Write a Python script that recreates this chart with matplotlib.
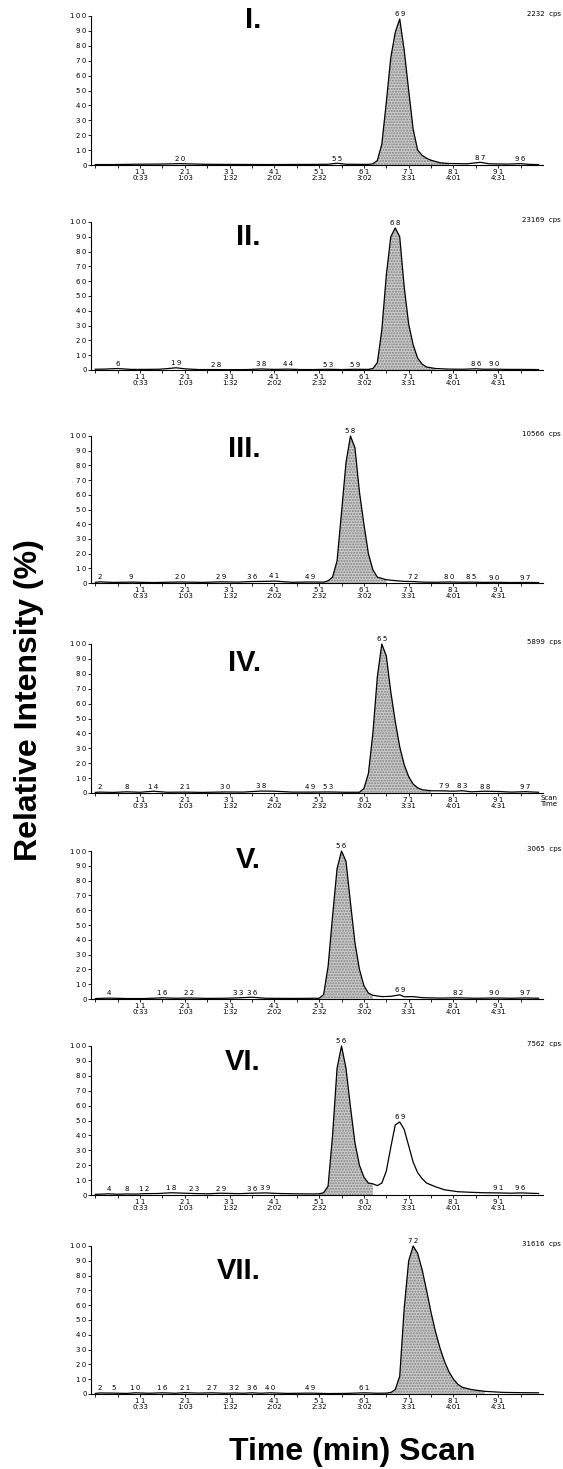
import numpy as np
import matplotlib
matplotlib.use("Agg")
import matplotlib.pyplot as plt
from matplotlib.ticker import FixedLocator, FixedFormatter

# ---- chromatogram traces (scan number, relative intensity %) ----
scan_I = [1, 5, 10, 15, 20, 25, 30, 40, 50, 53, 55, 57, 62, 63, 64, 65, 66, 67, 68, 69,
          70, 71, 72, 73, 74, 75, 76, 78, 80, 84, 87, 89, 93, 96, 98, 100]
int_I = [0.3, 0.3, 0.5, 0.6, 0.9, 0.5, 0.4, 0.3, 0.4, 0.5, 1.2, 0.5, 0.4, 0.8, 3, 14, 42, 72, 89, 98,
         77, 50, 24, 10, 6.5, 4.5, 3.2, 1.5, 1, 0.8, 1.8, 0.8, 0.6, 0.9, 0.4, 0.3]

scan_II = [1, 3, 6, 9, 12, 15, 17, 19, 21, 24, 28, 31, 35, 38, 41, 44, 47, 50, 53, 56,
           59, 62, 63, 64, 65, 66, 67, 68, 69, 70, 71, 72, 73, 74, 75, 77, 80, 83, 86, 88,
           90, 93, 96, 100]
int_II = [0.5, 0.6, 1.0, 0.4, 0.4, 0.5, 0.9, 1.5, 0.8, 0.3, 0.3, 0.2, 0.3, 0.7, 0.4, 0.6, 0.3, 0.3, 0.5, 0.3,
          0.5, 0.4, 1, 5, 27, 64, 90, 96, 90, 56, 31, 17, 8, 4, 2, 1, 0.6, 0.5, 0.8, 0.5,
          0.6, 0.4, 0.4, 0.3]

scan_III = [1, 2, 5, 9, 14, 20, 25, 29, 33, 36, 39, 41, 45, 49, 52, 53, 54, 55, 56, 57,
            58, 59, 60, 61, 62, 63, 64, 66, 68, 70, 72, 74, 77, 80, 83, 85, 88, 90, 94, 97, 100]
int_III = [0.4, 0.8, 0.4, 0.6, 0.3, 0.7, 0.4, 0.8, 0.6, 1.0, 1.1, 1.3, 0.5, 0.7, 0.6, 1.5, 4, 15, 48, 82,
           100, 92, 62, 40, 20, 9, 4, 2.2, 1.6, 1.1, 1.0, 0.6, 0.5, 0.7, 0.5, 0.6, 0.4, 0.5, 0.3, 0.4, 0.3]

scan_IV = [1, 2, 5, 8, 11, 14, 17, 21, 25, 30, 34, 38, 41, 45, 49, 53, 57, 60, 61, 62,
           63, 64, 65, 66, 67, 68, 69, 70, 71, 72, 73, 74, 76, 79, 81, 83, 85, 88, 91, 94, 97, 100]
int_IV = [0.4, 0.6, 0.4, 0.8, 0.5, 1.2, 0.5, 0.6, 0.4, 0.7, 0.6, 1.3, 1.2, 0.6, 0.6, 0.7, 0.5, 0.5, 3, 13,
          40, 78, 100, 92, 68, 48, 31, 19, 11, 6, 3.5, 2.2, 1.5, 1.4, 1.2, 1.5, 0.8, 1.2, 1.0, 0.6, 0.9, 0.5]

scan_V = [1, 4, 8, 12, 16, 19, 22, 26, 30, 33, 36, 39, 43, 47, 50, 51, 52, 53, 54, 55,
          56, 57, 58, 59, 60, 61, 62, 63, 65, 67, 69, 70, 72, 74, 78, 82, 86, 90, 94, 97, 100]
int_V = [0.3, 0.6, 0.3, 0.3, 0.8, 0.5, 0.7, 0.4, 0.5, 0.8, 1.2, 0.5, 0.4, 0.4, 0.5, 0.5, 3, 22, 56, 88,
         100, 93, 65, 38, 20, 9, 4, 2.5, 1.6, 1.8, 2.8, 1.5, 1.6, 0.9, 0.6, 0.8, 0.5, 0.7, 0.5, 0.7, 0.5]

scan_VI = [1, 4, 6, 8, 10, 12, 15, 18, 21, 23, 26, 29, 33, 36, 39, 42, 46, 50, 51, 52,
           53, 54, 55, 56, 57, 58, 59, 60, 61, 62, 63, 64, 65, 66, 67, 68, 69, 70, 71, 72,
           73, 74, 75, 77, 79, 82, 85, 88, 91, 94, 96, 100]
int_VI = [0.4, 0.8, 0.5, 0.7, 0.6, 0.9, 1.0, 1.5, 1.2, 1.0, 0.8, 1.2, 0.9, 1.2, 1.4, 1.0, 0.8, 0.7, 0.8, 1.5,
          6, 40, 85, 100, 85, 59, 35, 20, 12, 8, 7.5, 6.3, 8, 16, 32, 47, 49, 44, 33, 22,
          15, 11, 8, 5.5, 3.5, 2.2, 1.8, 1.5, 1.4, 1.2, 1.4, 1.0]

scan_VII = [1, 2, 5, 8, 10, 13, 16, 19, 21, 24, 27, 30, 32, 34, 36, 38, 40, 44, 49, 53,
            57, 61, 64, 66, 67, 68, 69, 70, 71, 72, 73, 74, 75, 76, 77, 78, 79, 80, 81, 82,
            83, 85, 88, 92, 96, 100]
int_VII = [0.4, 0.7, 0.6, 0.4, 0.8, 0.5, 0.8, 0.5, 0.9, 0.6, 0.8, 0.5, 0.7, 0.5, 0.8, 0.5, 0.8, 0.4, 0.6, 0.3,
           0.4, 0.8, 0.5, 0.6, 1, 3, 12, 58, 90, 100, 95, 84, 70, 55, 42, 31, 22, 15, 10, 6.5,
           4.5, 3, 1.8, 1.1, 0.9, 0.8]

# scans that carry a printed scan-number label
labels_I = [20, 55, 69, 87, 96]
labels_II = [6, 19, 28, 38, 44, 53, 59, 68, 86, 90]
labels_III = [2, 9, 20, 29, 36, 41, 49, 58, 72, 80, 85, 90, 97]
labels_IV = [2, 8, 14, 21, 30, 38, 49, 53, 65, 79, 83, 88, 97]
labels_V = [4, 16, 22, 33, 36, 56, 69, 82, 90, 97]
labels_VI = [4, 8, 12, 18, 23, 29, 36, 39, 56, 69, 91, 96]
labels_VII = [2, 5, 10, 16, 21, 27, 32, 36, 40, 49, 61, 72]

# shaded scan range of the main peak
shade_I = (63, 80)
shade_II = (62, 77)
shade_III = (52, 66)
shade_IV = (60, 76)
shade_V = (51, 63)
shade_VI = (51, 63)
shade_VII = (66, 88)

panel_names = ["I.", "II.", "III.", "IV.", "V.", "VI.", "VII."]
cps_values = [2232, 23169, 10566, 5899, 3065, 7562, 31616]

# x axis: scan numbers and matching retention times
scan_ticks = [11, 21, 31, 41, 51, 61, 71, 81, 91]
time_ticks = ["0:33", "1:03", "1:32", "2:02", "2:32", "3:02", "3:31", "4:01", "4:31"]
minor_scans = [1, 6, 16, 26, 36, 46, 56, 66, 76, 86, 96]
y_ticks = [0, 10, 20, 30, 40, 50, 60, 70, 80, 90, 100]

traces = [
    (scan_I, int_I, labels_I, shade_I),
    (scan_II, int_II, labels_II, shade_II),
    (scan_III, int_III, labels_III, shade_III),
    (scan_IV, int_IV, labels_IV, shade_IV),
    (scan_V, int_V, labels_V, shade_V),
    (scan_VI, int_VI, labels_VI, shade_VI),
    (scan_VII, int_VII, labels_VII, shade_VII),
]

# ---- layout (pixels on a 563 x 1469 canvas) ----
W, H = 563, 1469
ax_left_px, ax_right_px = 90.8, 543.0
rows_px = [(16, 165), (222, 370), (436, 583), (644, 793), (851, 999), (1046, 1195), (1246, 1394)]
numeral_y = [97, 90, 91, 87, 94, 89, 83]

SMALL = 5
sans = "Liberation Sans"


def spaced(text):
    # printer-style spacing between the digits
    return "\u2009".join(text)


fig = plt.figure(figsize=(W / 100, H / 100), dpi=100)
fig.patch.set_facecolor("white")

for i, (s, v, labs, (lo, hi)) in enumerate(traces):
    top, bot = rows_px[i]
    ax = fig.add_axes([ax_left_px / W, 1 - bot / H,
                       (ax_right_px - ax_left_px) / W, (bot - top) / H])
    s = np.asarray(s, dtype=float)
    v = np.asarray(v, dtype=float)
    ax.set_xlim(0, 101)
    ax.set_ylim(0, 100)

    mask = (s >= lo) & (s <= hi)
    ax.fill_between(s, 0, v, where=mask, facecolor="#cdcdcd", edgecolor="#808080",
                    hatch="......", linewidth=0, zorder=1)
    ax.plot(s, v, color="black", lw=0.9, zorder=3, clip_on=False)

    for sc in labs:
        y = np.interp(sc, s, v)
        ax.annotate(spaced(str(sc)), xy=(sc, y), xytext=(0, 1.2), textcoords="offset points",
                    ha="center", va="bottom", fontsize=SMALL, family="DejaVu Sans",
                    annotation_clip=False, zorder=4)

    for side in ("top", "right"):
        ax.spines[side].set_visible(False)
    ax.spines["left"].set_linewidth(0.8)
    ax.spines["bottom"].set_linewidth(0.8)

    ax.yaxis.set_major_locator(FixedLocator(y_ticks))
    ax.yaxis.set_major_formatter(FixedFormatter([spaced(str(t)) for t in y_ticks]))
    ax.tick_params(axis="y", direction="out", length=2, width=0.6, pad=1,
                   labelsize=SMALL)

    ax.xaxis.set_major_locator(FixedLocator(scan_ticks))
    ax.xaxis.set_major_formatter(FixedFormatter(
        [spaced(str(sc)) + "\n" + t for sc, t in zip(scan_ticks, time_ticks)]))
    ax.xaxis.set_minor_locator(FixedLocator(minor_scans))
    ax.tick_params(axis="x", which="both", direction="out", length=2.2, width=0.6,
                   pad=1, labelsize=SMALL)
    for lbl in ax.get_xticklabels() + ax.get_yticklabels():
        lbl.set_family("DejaVu Sans")
        lbl.set_linespacing(0.95)

    ax.text(38, numeral_y[i], panel_names[i], ha="right", va="center", fontsize=21,
            fontweight="bold", family=sans)
    fig.text(561 / W, 1 - (top - 2) / H, f"{cps_values[i]}  cps", ha="right", va="center",
             fontsize=SMALL, family="DejaVu Sans")

    if i == 3:
        ax.annotate("Scan\nTime", xy=(100.4, 0), xytext=(0, -1.5), textcoords="offset points",
                    ha="left", va="top", fontsize=SMALL, family="DejaVu Sans",
                    linespacing=0.95, annotation_clip=False)

fig.text(29 / W, 1 - 700 / H, "Relative Intensity (%)", rotation=90, ha="center", va="center",
         fontsize=23, fontweight="bold", family=sans)
fig.text(352 / W, 1 - 1452 / H, "Time (min) Scan", ha="center", va="center",
         fontsize=23, fontweight="bold", family=sans)

fig.savefig("out.png", dpi=100, facecolor="white")
